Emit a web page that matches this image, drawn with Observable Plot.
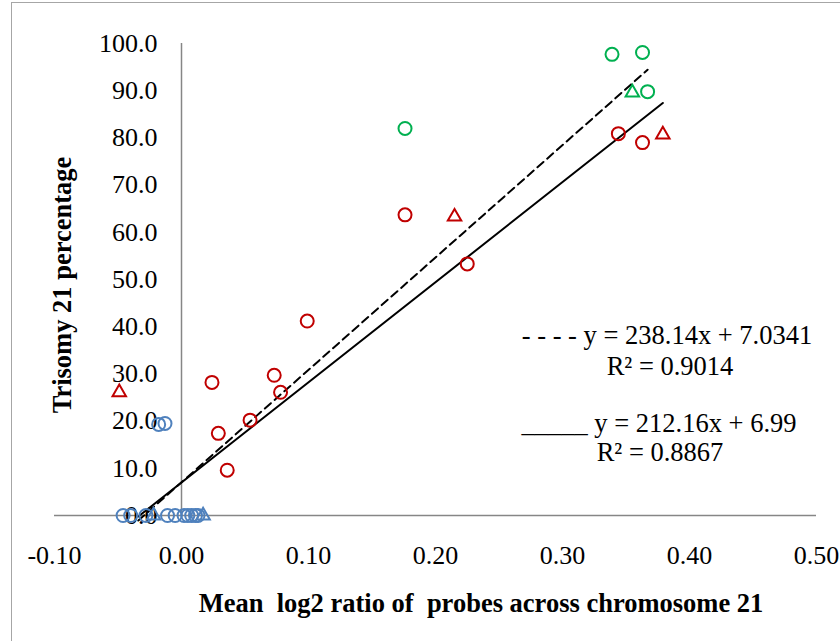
<!DOCTYPE html>
<html><head><meta charset="utf-8">
<script src="https://cdn.jsdelivr.net/npm/d3@7"></script>
<script src="https://cdn.jsdelivr.net/npm/@observablehq/plot@0.6"></script>
<style>
body{margin:0;background:#fff;}
#wrap{position:relative;width:840px;height:641px;overflow:hidden;font-family:"Liberation Serif","Times New Roman",serif;}
#frame{position:absolute;left:11px;top:2px;width:900px;height:700px;border:1.5px solid #a6a6a6;}
#chart{position:absolute;left:0;top:0;}
.t{position:absolute;color:#000;font-size:26.5px;white-space:nowrap;line-height:1;}
.eq{text-align:center;transform:translate(-50%,-50%);}
</style></head><body>
<div id="wrap"><div id="frame"></div><div id="chart"></div>
<div class="t eq" style="left:667px;top:335px;">- - - - y = 238.14x + 7.0341</div>
<div class="t eq" style="left:670px;top:366px;">R² = 0.9014</div>
<div class="t eq" style="left:659px;top:423px;">_____ y = 212.16x + 6.99</div>
<div class="t eq" style="left:660px;top:452px;">R² = 0.8867</div>
<div class="t eq" style="left:481px;top:603px;font-weight:bold;">Mean&nbsp; log2 ratio of&nbsp; probes across chromosome 21</div>
<div class="t" style="left:62px;top:285px;font-weight:bold;transform:translate(-50%,-50%) rotate(-90deg);">Trisomy 21 percentage</div>
</div>
<script>
// Tick values
const xTicks = [-0.10, 0.00, 0.10, 0.20, 0.30, 0.40, 0.50];
const yTicks = [0, 10, 20, 30, 40, 50, 60, 70, 80, 90, 100];

// Green series (circles / triangles)
const greenCircleX = [0.339, 0.363, 0.367, 0.176];
const greenCircleY = [97.7, 98.1, 89.8, 82.0];
const greenTriX = [0.355];
const greenTriY = [89.6];

// Red series
const redCircleX = [0.344, 0.363, 0.176, 0.225, 0.099, 0.073, 0.078, 0.054, 0.024, 0.029, 0.036];
const redCircleY = [80.9, 79.0, 63.7, 53.3, 41.2, 29.7, 26.1, 20.2, 28.2, 17.4, 9.6];
const redTriX = [-0.049, 0.215, 0.379];
const redTriY = [26.1, 63.3, 80.7];

// Blue series
const blueCircleX = [-0.018, -0.013, -0.046, -0.040, -0.028, -0.011, -0.005, 0.002, 0.005, 0.008, 0.011, 0.013];
const blueCircleY = [19.3, 19.5, 0, 0, 0, 0, 0, 0, 0, 0, 0, 0];
const blueTriX = [-0.022, 0.017];
const blueTriY = [0, 0];

// Trendlines: slope, intercept, x range
const dashedFit = {slope: 238.14, intercept: 7.0341, xRange: [-0.034, 0.367]};
const solidFit = {slope: 212.16, intercept: 6.99, xRange: [-0.034, 0.379]};

const pts = (xs, ys) => xs.map((x, i) => ({x, y: ys[i]}));
const fitLine = f => f.xRange.map(x => ({x, y: f.slope * x + f.intercept}));

const green = "#00B050", red = "#C00000", blue = "#4F81BD", axisCol = "#868686";
const fmtX = d => d3.format(".2f")(d).replace("\u2212", "-");

const plot = Plot.plot({
  width: 840, height: 641,
  marginLeft: 54, marginRight: 24, marginTop: 43, marginBottom: 126,
  x: {domain: [-0.1, 0.5], axis: null},
  y: {domain: [0, 100], axis: null},
  style: {fontFamily: "'Liberation Serif', 'Times New Roman', serif", background: "transparent", overflow: "visible"},
  marks: [
    Plot.ruleY([0], {x1: -0.1, x2: 0.5, stroke: axisCol, strokeWidth: 1.5}),
    Plot.ruleX([0], {y1: 0, y2: 100, stroke: axisCol, strokeWidth: 1.5}),
    Plot.text(yTicks, {x: 0, y: d => d, text: d => d3.format(".1f")(d), textAnchor: "end", dx: -24, fontSize: 26, fill: "#000"}),
    Plot.text(xTicks, {x: d => d, y: 0, text: fmtX, dy: 40, fontSize: 26, fill: "#000"}),
    Plot.line(fitLine(dashedFit), {x: "x", y: "y", stroke: "#000", strokeWidth: 2, strokeDasharray: "8,5"}),
    Plot.line(fitLine(solidFit), {x: "x", y: "y", stroke: "#000", strokeWidth: 2}),
    Plot.dot(pts(blueCircleX, blueCircleY), {x: "x", y: "y", r: 6.5, stroke: blue, strokeWidth: 2, fill: "none"}),
    Plot.dot(pts(blueTriX, blueTriY), {x: "x", y: "y", symbol: "triangle", r: 5, stroke: blue, strokeWidth: 2, fill: "none"}),
    Plot.dot(pts(redCircleX, redCircleY), {x: "x", y: "y", r: 6.5, stroke: red, strokeWidth: 2, fill: "none"}),
    Plot.dot(pts(redTriX, redTriY), {x: "x", y: "y", symbol: "triangle", r: 5, stroke: red, strokeWidth: 2, fill: "none"}),
    Plot.dot(pts(greenCircleX, greenCircleY), {x: "x", y: "y", r: 6.5, stroke: green, strokeWidth: 2, fill: "none"}),
    Plot.dot(pts(greenTriX, greenTriY), {x: "x", y: "y", symbol: "triangle", r: 5, stroke: green, strokeWidth: 2, fill: "none"})
  ]
});
document.getElementById("chart").appendChild(plot);
</script>
</body></html>
